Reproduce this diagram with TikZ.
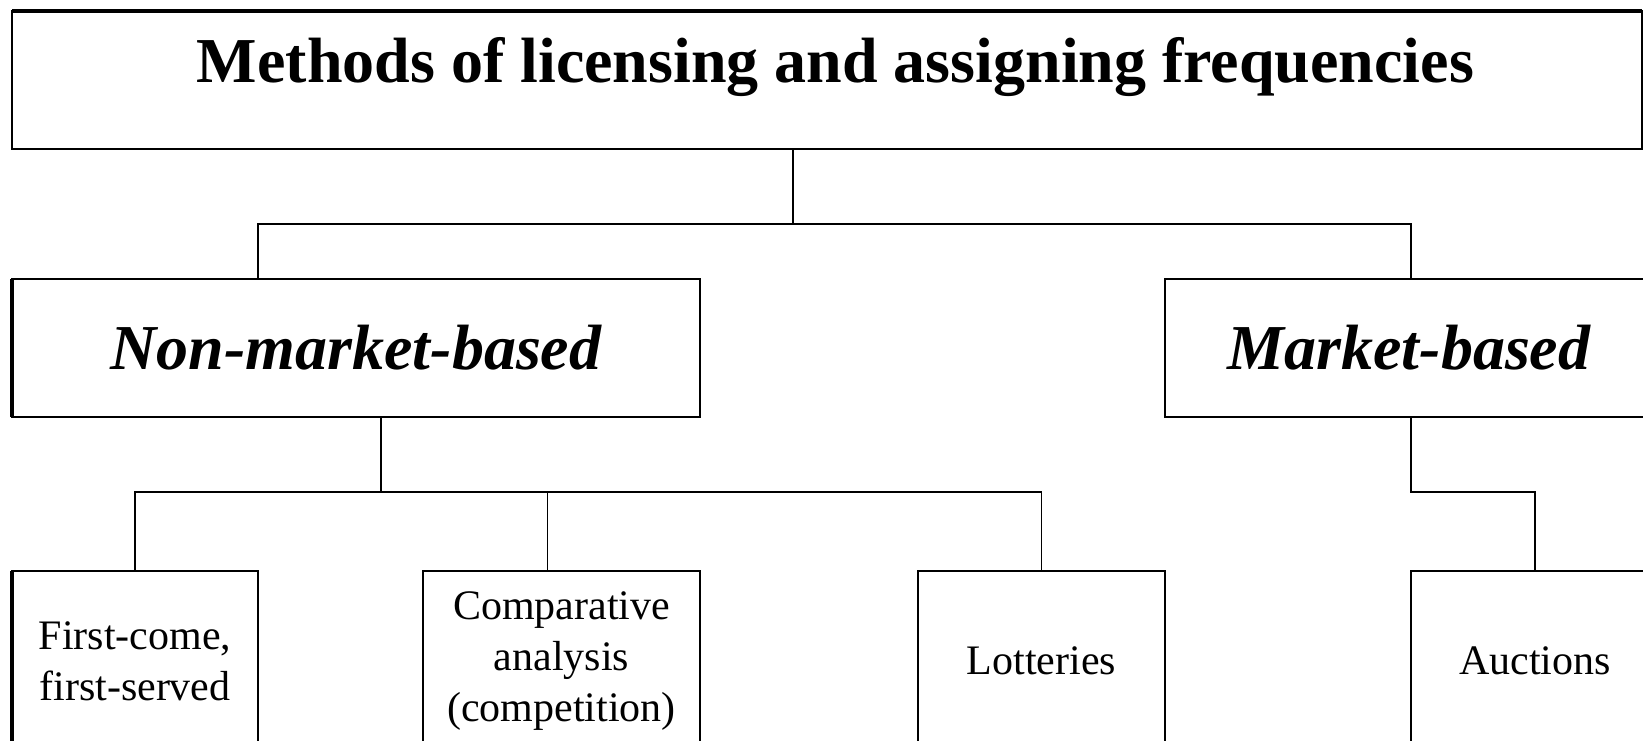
\documentclass[tikz,border=0pt]{standalone}
\usepackage{fontspec}
\setmainfont{Liberation Serif}
\usepackage{tikz}
\usetikzlibrary{positioning}
\tikzset{
	every node/.append style={
		outer sep=0pt,
		inner sep=0pt,
	},
	titlebox/.append style={
		draw,
		line width=1.5pt,
		minimum width=1630pt,
		minimum height=138pt,
		text height=44pt,
		text depth=40pt,
		font={\fontsize{64}{70}\selectfont\bfseries}
	},
	branch/.append style={
		draw,
		line width=1.5pt,
		minimum height=138pt,
		font={\fontsize{64}{70}\selectfont\bfseries\itshape}
	},
	method/.append style={
		draw,
		align = center,
		line width=1.5pt,
		minimum height=180pt,
		font={\fontsize{42}{51}\selectfont}
	},
	link/.append style={
		line width=1.5pt,
	},
	thickedge/.append style={
		line width=4.5pt,
	}
}

\begin{document}
\begin{tikzpicture}[x=1pt, y=-1pt]
			\useasboundingbox (0,0) rectangle (1643,740);
			\clip (0,0) rectangle (1643,740);

			\node(title)[titlebox] at (827,80) {\hspace*{17pt}Methods of licensing and assigning frequencies};
			\draw[thickedge] (title.north west) -- (title.north east);

			\node(nonmarket)[branch, minimum width=688pt, below right=130pt and 0pt of title.south west]{Non-market-based};
			\node(market)[branch, minimum width=488pt, right=465pt of nonmarket]{Market-based};
			\draw[thickedge] (nonmarket.north west) -- (nonmarket.south west);

			\node(firstcome)[method, minimum width=246pt, below right=154pt and 0pt of nonmarket.south west]{First-come,\\first-served};
			\node(comparative)[method, minimum width=277pt, right=165pt of firstcome]{Comparative\\analysis\\(competition)};
			\node(lotteries)[method, minimum width=247pt, right=218pt of comparative]{Lotteries};
			\node(auctions)[method, minimum width=248pt, right=246pt of lotteries]{Auctions};
			\draw[thickedge] (firstcome.north west) -- (firstcome.south west);

			% top level split
			\coordinate(split1) at ([xshift=-34pt, yshift=-75pt]title.south);
			\draw[link] (title.south -| split1) -- (split1);
			\draw[link] (nonmarket.north -| firstcome.east) |- (split1) -| (market.north -| auctions.west);

			% methods split
			\coordinate(split2) at ([xshift=25pt, yshift=-75pt]nonmarket.south);
			\draw[link] (nonmarket.south -| split2) -- (split2);
			\draw[link] (firstcome.north) |- (split2) -| (lotteries.north);
			\draw[link] ([xshift=-14pt]comparative.north) -- ([xshift=-14pt]comparative.north |- split2);
			\draw[link] (market.south -| auctions.west) |- (auctions.north |- split2) -- (auctions.north);

		\end{tikzpicture}
\end{document}
